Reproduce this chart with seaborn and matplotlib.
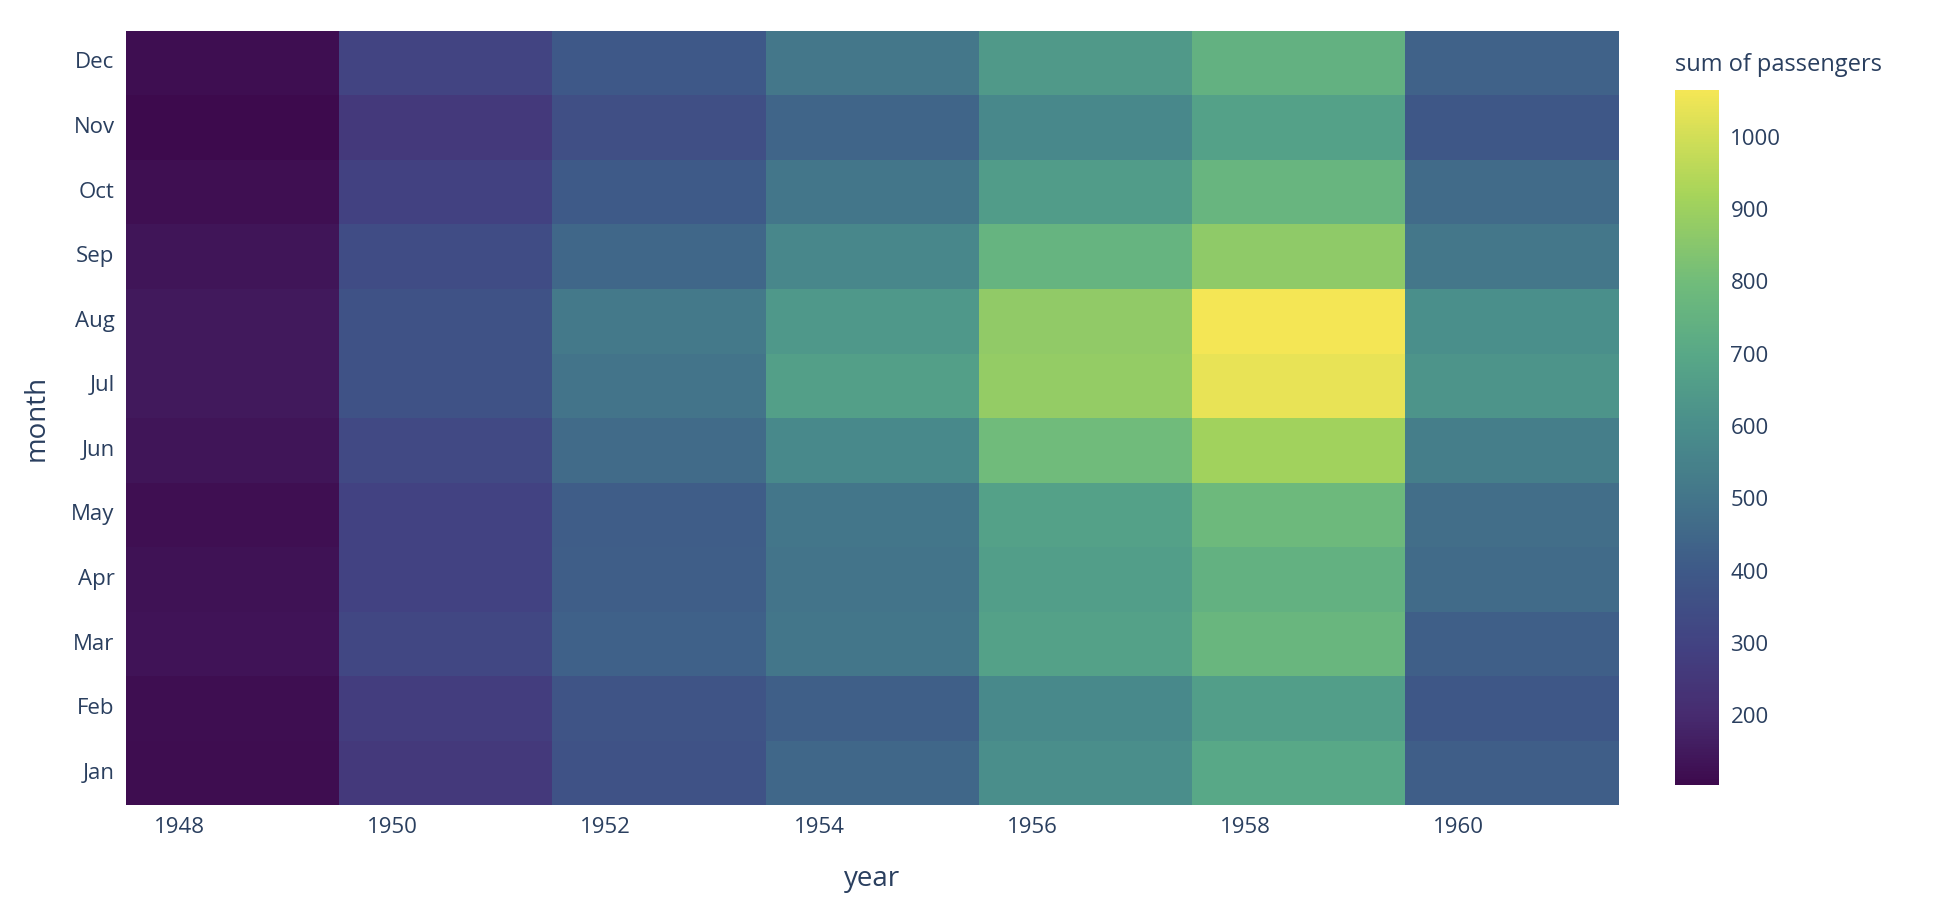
import matplotlib
matplotlib.use("Agg")
import matplotlib.pyplot as plt
from matplotlib.colors import LinearSegmentedColormap
import seaborn as sns
import pandas as pd
import numpy as np

months = ["Jan","Feb","Mar","Apr","May","Jun","Jul","Aug","Sep","Oct","Nov","Dec"]
year_bins = [1948, 1950, 1952, 1954, 1956, 1958, 1960]
s1948 = [112,118,132,129,121,135,148,148,136,119,104,118]
s1950 = [260,276,319,298,297,327,369,369,342,295,260,306]
s1952 = [367,376,429,416,412,461,494,514,446,402,352,395]
s1954 = [446,421,502,496,504,579,666,640,571,503,440,507]
s1956 = [599,578,673,661,673,796,878,872,759,653,576,642]
s1958 = [700,660,768,744,783,907,1039,1064,867,766,672,742]
s1960 = [417,391,419,461,472,535,622,606,508,461,390,432]

df = pd.DataFrame({1948:s1948,1950:s1950,1952:s1952,1954:s1954,1956:s1956,1958:s1958,1960:s1960}, index=months)
df = df.iloc[::-1]

cmap = LinearSegmentedColormap.from_list("pviridis", [
    (0.0, "#3d0a4d"), (0.1, "#472c70"), (0.2, "#424282"), (0.31, "#3e5a88"),
    (0.41, "#43758a"), (0.52, "#4a8f8b"), (0.62, "#58a887"), (0.72, "#6fbb7b"),
    (0.85, "#a6d45a"), (1.0, "#f4e655")])

txt = "#2a3f5f"
plt.rcParams['font.family'] = ['Open Sans', 'DejaVu Sans']
fig = plt.figure(figsize=(19.34, 9.02), dpi=100)
ax = fig.add_axes([0.065, 0.107, 0.772, 0.859])
cax = fig.add_axes([0.866, 0.13, 0.023, 0.77])
sns.heatmap(df, ax=ax, cmap=cmap, cbar_ax=cax, vmin=104, vmax=1064,
            xticklabels=False, yticklabels=True)
ax.set_xticks(np.arange(len(year_bins)) + 0.25)
ax.set_xticklabels([str(y) for y in year_bins])
ax.tick_params(axis='both', length=0, labelsize=16, colors=txt, pad=8)
ax.tick_params(axis='y', rotation=0)
ax.set_xlabel("year", fontsize=20, color=txt, labelpad=20)
ax.set_ylabel("month", fontsize=20, color=txt, labelpad=15)
cax.tick_params(length=0, labelsize=16, colors=txt, pad=8)
cax.set_yticks([200,300,400,500,600,700,800,900,1000])
cax.set_title("sum of passengers", fontsize=17, color=txt, loc="left", pad=14)
for s in cax.spines.values():
    s.set_visible(False)
fig.savefig("out.png", dpi=100)
